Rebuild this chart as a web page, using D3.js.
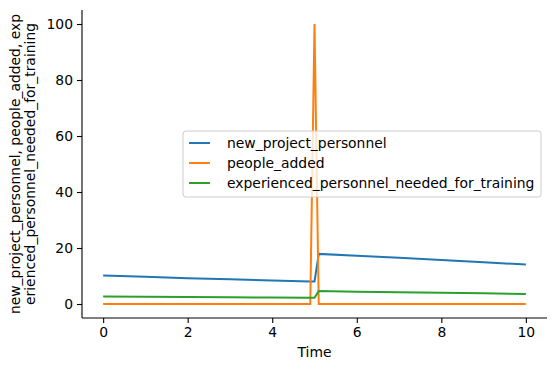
<!DOCTYPE html>
<html>
<head>
<meta charset="utf-8">
<script src="https://cdn.jsdelivr.net/npm/d3@7"></script>
<style>
  body { margin: 0; background: #fff; }
  text { font-family: "DejaVu Sans", sans-serif; fill: #000; }
</style>
</head>
<body>
<script>
// series (Time, value)
var newProjectPersonnel = [
  [0, 10.2], [1, 9.7], [2, 9.2], [3, 8.8], [4, 8.4], [4.9, 8.0], [5.0, 8.0],
  [5.1, 17.9], [6, 17.2], [7, 16.5], [8, 15.7], [9, 14.9], [10, 14.1]
];
var peopleAdded = [
  [0, 0], [4.9, 0], [5.0, 100], [5.1, 0], [10, 0]
];
var experiencedNeeded = [
  [0, 2.7], [1, 2.6], [2, 2.5], [3, 2.4], [4, 2.3], [4.9, 2.2], [5.0, 2.2],
  [5.1, 4.6], [6, 4.4], [7, 4.2], [8, 4.0], [9, 3.8], [10, 3.6]
];
var seriesNames = ["new_project_personnel", "people_added", "experienced_personnel_needed_for_training"];
var seriesColors = ["#1f77b4", "#ff7f0e", "#2ca02c"];
var xTicks = [0, 2, 4, 6, 8, 10];
var yTicks = [0, 20, 40, 60, 80, 100];

var width = 557, height = 371;
var margin = {left: 82, right: 10, top: 10, bottom: 53};
var fs = 13.9;

var svg = d3.select("body").append("svg")
    .attr("width", width)
    .attr("height", height);

var x = d3.scaleLinear().domain([-0.5, 10.5]).range([margin.left, width - margin.right]);
var y = d3.scaleLinear().domain([-5, 105]).range([height - margin.bottom, margin.top]);

var line = d3.line().x(function(d) { return x(d[0]); }).y(function(d) { return y(d[1]); });

[newProjectPersonnel, peopleAdded, experiencedNeeded].forEach(function(s, i) {
  svg.append("path")
      .datum(s)
      .attr("fill", "none")
      .attr("stroke", seriesColors[i])
      .attr("stroke-width", 2)
      .attr("d", line);
});

// axes, matplotlib look
var xAxis = svg.append("g")
    .attr("transform", "translate(0," + (height - margin.bottom) + ")")
    .call(d3.axisBottom(x).tickValues(xTicks).tickSize(5).tickPadding(4));
var yAxis = svg.append("g")
    .attr("transform", "translate(" + margin.left + ",0)")
    .call(d3.axisLeft(y).tickValues(yTicks).tickSize(5).tickPadding(4));

[xAxis, yAxis].forEach(function(a) {
  a.select(".domain").attr("stroke", "#000").attr("stroke-width", 1.1)
    .attr("d", a === xAxis
      ? "M" + margin.left + ",0H" + (width - margin.right)
      : "M0," + margin.top + "V" + (height - margin.bottom));
  a.selectAll(".tick line").attr("stroke", "#000").attr("stroke-width", 1.1);
  a.selectAll(".tick text").style("font-size", fs + "px").style("font-family", "DejaVu Sans").attr("fill", "#000");
});

svg.append("text")
    .attr("x", (margin.left + width - margin.right) / 2)
    .attr("y", 357)
    .attr("text-anchor", "middle")
    .style("font-size", fs + "px")
    .text("Time");

var ylab = svg.append("text")
    .attr("transform", "translate(20," + (margin.top + (height - margin.bottom)) / 2 + ") rotate(-90)")
    .attr("text-anchor", "middle")
    .style("font-size", fs + "px");
ylab.append("tspan").attr("x", 0).attr("dy", 0).text("new_project_personnel, people_added, exp");
ylab.append("tspan").attr("x", 0).attr("dy", 14.5).text("erienced_personnel_needed_for_training");

// legend
var lg = svg.append("g").attr("transform", "translate(183,131)");
lg.append("rect")
    .attr("width", 358).attr("height", 66)
    .attr("rx", 3)
    .attr("fill", "#fff").attr("fill-opacity", 0.8)
    .attr("stroke", "#ccc").attr("stroke-width", 1);
seriesNames.forEach(function(n, i) {
  var yy = 12 + i * 20;
  lg.append("line")
      .attr("x1", 6).attr("x2", 27).attr("y1", yy).attr("y2", yy)
      .attr("stroke", seriesColors[i]).attr("stroke-width", 2);
  lg.append("text")
      .attr("x", 44).attr("y", yy).attr("dy", "0.35em")
      .style("font-size", fs + "px")
      .text(n);
});
</script>
</body>
</html>
